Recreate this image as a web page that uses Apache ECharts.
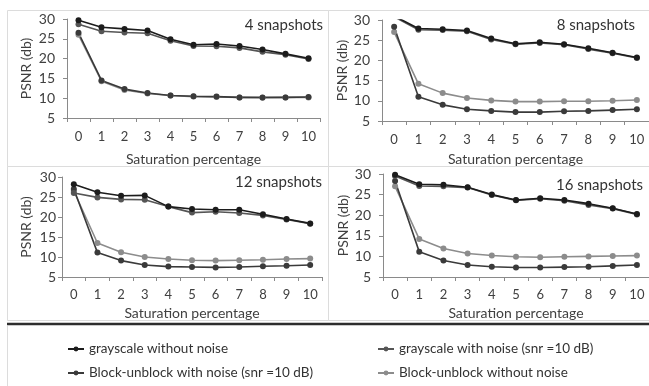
<!DOCTYPE html>
<html>
<head>
<meta charset="utf-8">
<script src="https://cdn.jsdelivr.net/npm/echarts@6/dist/echarts.min.js"></script>
<style>
  html, body { margin: 0; padding: 0; background: #ffffff; }
  #chart { width: 649px; height: 386px; }
</style>
</head>
<body>
<div id="chart"></div>
<script>
// saturation percentage categories
const categories = ["0", "1", "2", "3", "4", "5", "6", "7", "8", "9", "10"];
const panelTitles = ["4 snapshots", "8 snapshots", "12 snapshots", "16 snapshots"];
const seriesNames = [
  "grayscale without noise",
  "grayscale with noise (snr =10 dB)",
  "Block-unblock with noise (snr =10 dB)",
  "Block-unblock without noise",
];

// PSNR (db) per panel
const gray4 = [29.7, 27.9, 27.5, 27.1, 24.9, 23.5, 23.7, 23.2, 22.3, 21.2, 20.1];
const grayNoise4 = [28.7, 26.9, 26.6, 26.4, 24.5, 23.2, 23.1, 22.7, 21.7, 21.0, 19.9];
const blockNoise4 = [26.5, 14.5, 12.3, 11.3, 10.7, 10.5, 10.4, 10.2, 10.2, 10.2, 10.3];
const block4 = [26.0, 14.3, 12.1, 11.2, 10.7, 10.4, 10.3, 10.2, 10.1, 10.2, 10.2];

const gray8 = [31.0, 27.9, 27.7, 27.4, 25.4, 24.1, 24.5, 24.0, 23.0, 21.9, 20.7];
const grayNoise8 = [30.8, 27.6, 27.5, 27.2, 25.2, 24.0, 24.3, 23.9, 22.8, 21.8, 20.6];
const blockNoise8 = [28.3, 11.0, 9.0, 7.9, 7.5, 7.2, 7.2, 7.4, 7.5, 7.7, 7.9];
const block8 = [27.0, 14.2, 11.9, 10.7, 10.1, 9.8, 9.8, 9.9, 9.9, 10.0, 10.2];

const gray12 = [28.2, 26.2, 25.3, 25.4, 22.6, 22.0, 21.8, 21.8, 20.7, 19.5, 18.4];
const grayNoise12 = [26.0, 24.9, 24.4, 24.3, 22.6, 21.1, 21.3, 21.0, 20.4, 19.4, 18.3];
const blockNoise12 = [27.0, 11.1, 9.1, 8.0, 7.6, 7.5, 7.4, 7.5, 7.7, 7.8, 8.0];
const block12 = [26.5, 13.5, 11.2, 10.0, 9.5, 9.2, 9.1, 9.2, 9.3, 9.5, 9.6];

const gray16 = [29.8, 27.5, 27.4, 26.8, 25.0, 23.7, 24.1, 23.7, 22.8, 21.7, 20.3];
const grayNoise16 = [29.5, 27.1, 27.0, 26.7, 24.9, 23.6, 24.0, 23.5, 22.5, 21.6, 20.2];
const blockNoise16 = [28.3, 11.1, 9.0, 7.9, 7.5, 7.3, 7.3, 7.4, 7.5, 7.7, 7.9];
const block16 = [27.0, 14.2, 11.9, 10.7, 10.2, 9.9, 9.8, 9.9, 10.0, 10.1, 10.2];

const panelData = [
  [gray4, grayNoise4, blockNoise4, block4],
  [gray8, grayNoise8, blockNoise8, block8],
  [gray12, grayNoise12, blockNoise12, block12],
  [gray16, grayNoise16, blockNoise16, block16],
];

const colors = ["#1c1c1c", "#555555", "#3a3a3a", "#8c8c8c"];
const font = "Lato, 'Liberation Sans', sans-serif";
const textColor = "#404040";
const axisColor = "#8a8a8a";

// grid boxes for the four panels
const grids = [
  { left: 67, top: 19, width: 253, height: 99 },
  { left: 382, top: 20, width: 267, height: 101 },
  { left: 62, top: 177, width: 260, height: 100 },
  { left: 383, top: 174, width: 266, height: 103 },
];
const yLabelMargin = [12, 12, 6, 12];
const yNameGap = [34, 30, 29, 29];
const xNameGap = [34, 31, 29, 29];
const xLabelMargin = [12, 12, 11, 11];
const titlePos = [[323, 25], [635, 25], [322, 182], [643, 185]];

const chart = echarts.init(document.getElementById("chart"), null, { renderer: "canvas" });

const xAxes = grids.map((g, i) => ({
  type: "category",
  gridIndex: i,
  data: categories,
  boundaryGap: true,
  name: "Saturation percentage",
  nameLocation: "middle",
  nameGap: xNameGap[i],
  nameTextStyle: { color: textColor, fontSize: 14, fontFamily: font },
  axisLine: { lineStyle: { color: axisColor, width: 1 } },
  axisTick: { show: true, length: 4, alignWithLabel: false, lineStyle: { color: axisColor } },
  axisLabel: { color: textColor, fontSize: 13, fontFamily: font, margin: xLabelMargin[i], interval: 0 },
  splitLine: { show: false },
}));

const yAxes = grids.map((g, i) => ({
  type: "value",
  gridIndex: i,
  min: 5,
  max: 30,
  interval: 5,
  name: "PSNR (db)",
  nameLocation: "middle",
  nameGap: yNameGap[i],
  nameTextStyle: { color: textColor, fontSize: 14, fontFamily: font },
  axisLine: { show: true, lineStyle: { color: axisColor, width: 1 } },
  axisTick: { show: true, length: 4, lineStyle: { color: axisColor } },
  axisLabel: { color: textColor, fontSize: 14, fontFamily: font, margin: yLabelMargin[i] },
  splitLine: { show: false },
}));

const series = [];
panelData.forEach((sets, p) => {
  // draw lighter lines first so the black one sits on top
  [3, 2, 1, 0].forEach((k) => {
    series.push({
      name: seriesNames[k],
      type: "line",
      xAxisIndex: p,
      yAxisIndex: p,
      data: sets[k],
      color: colors[k],
      symbol: "circle",
      symbolSize: 6,
      lineStyle: { width: 1.6, color: colors[k] },
      itemStyle: { color: colors[k] },
      animation: false,
    });
  });
});

// panel frames, divider and snapshot labels
const graphics = [
  { type: "rect", shape: { x: 7.5, y: 10.5, width: 321, height: 156 }, style: { fill: null, stroke: "#dcdcdc", lineWidth: 1 } },
  { type: "rect", shape: { x: 328.5, y: 10.5, width: 330, height: 156 }, style: { fill: null, stroke: "#dcdcdc", lineWidth: 1 } },
  { type: "rect", shape: { x: 7.5, y: 166.5, width: 321, height: 154 }, style: { fill: null, stroke: "#dcdcdc", lineWidth: 1 } },
  { type: "rect", shape: { x: 328.5, y: 166.5, width: 330, height: 154 }, style: { fill: null, stroke: "#dcdcdc", lineWidth: 1 } },
  { type: "line", shape: { x1: 7, y1: 324, x2: 649, y2: 324 }, style: { stroke: "#2e2e2e", lineWidth: 2.5 } },
  { type: "line", shape: { x1: 7.5, y1: 326, x2: 7.5, y2: 386 }, style: { stroke: "#dcdcdc", lineWidth: 1 } },
];
panelTitles.forEach((t, i) => {
  graphics.push({
    type: "text",
    x: titlePos[i][0],
    y: titlePos[i][1],
    style: {
      text: t,
      fill: "#333333",
      font: "15px " + font,
      textAlign: "right",
      textVerticalAlign: "middle",
    },
  });
});

const legendBase = {
  orient: "vertical",
  top: 337,
  itemWidth: 16,
  itemHeight: 6,
  itemGap: 10,
  textStyle: { color: "#333333", fontSize: 13.5, fontFamily: font },
};

chart.setOption({
  backgroundColor: "#ffffff",
  animation: false,
  grid: grids.map((g) => Object.assign({ containLabel: false }, g)),
  xAxis: xAxes,
  yAxis: yAxes,
  series: series,
  legend: [
    Object.assign({}, legendBase, { left: 62, data: [seriesNames[0], seriesNames[2]] }),
    Object.assign({}, legendBase, { left: 372, data: [seriesNames[1], seriesNames[3]] }),
  ],
  graphic: graphics,
});

window.addEventListener("resize", () => chart.resize());
</script>
</body>
</html>
